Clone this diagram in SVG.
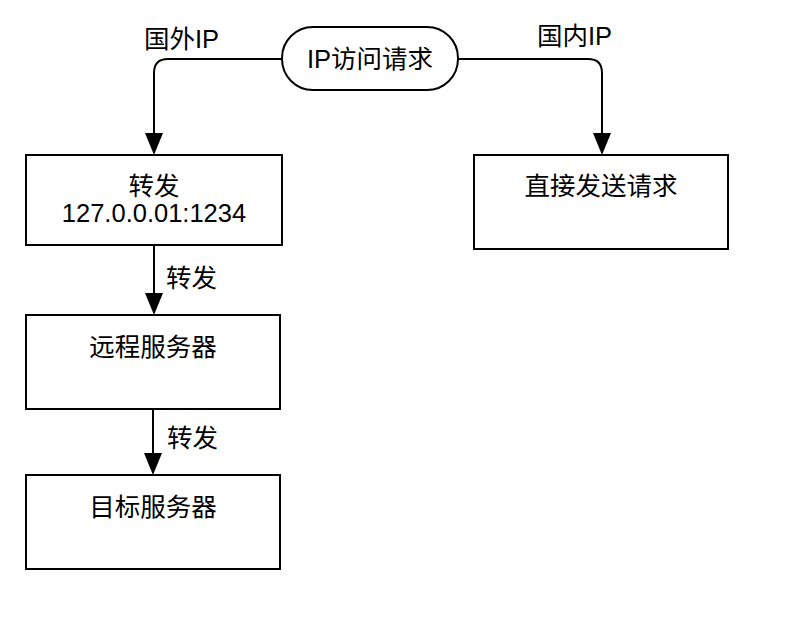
<svg xmlns="http://www.w3.org/2000/svg" width="802" height="644" viewBox="0 0 802 644">
<style>
.box{fill:#fff;stroke:#000;stroke-width:2}
.edge{fill:none;stroke:#000;stroke-width:2}
.head{fill:#000}
text{font-family:"Liberation Sans","Noto Sans CJK SC",sans-serif;font-size:25.5px;fill:#000}
.c{text-anchor:middle}
</style>
<rect width="802" height="644" fill="#fff"/>
<g id="connectors">
<path class="edge" d="M282,59 H168 Q154,59 154,73 V133"/>
<path class="head" d="M145,133 L163,133 L154,155 Z"/>
<path class="edge" d="M458,59 H588 Q602,59 602,73 V133"/>
<path class="head" d="M593,133 L611,133 L602,155 Z"/>
<path class="edge" d="M154,245 V293"/>
<path class="head" d="M145,293 L163,293 L154,315 Z"/>
<path class="edge" d="M153,409 V453"/>
<path class="head" d="M144,453 L162,453 L153,475 Z"/>
<text x="144" y="48">国外IP</text>
<text x="537" y="45">国内IP</text>
<text x="166" y="287">转发</text>
<text x="167" y="447">转发</text>
</g>
<g id="start">
<rect class="box" x="282" y="27" width="176" height="63" rx="31" ry="31"/>
<text class="c" x="370" y="68">IP访问请求</text>
</g>
<g id="forward">
<rect class="box" x="26" y="155" width="256" height="90"/>
<text class="c" x="154" y="195">转发</text>
<text class="c" x="154" y="222">127.0.0.01:1234</text>
</g>
<g id="direct">
<rect class="box" x="474" y="155" width="254" height="94"/>
<text class="c" x="601" y="195">直接发送请求</text>
</g>
<g id="remote">
<rect class="box" x="26" y="315" width="254" height="94"/>
<text class="c" x="153" y="356">远程服务器</text>
</g>
<g id="target">
<rect class="box" x="26" y="475" width="254" height="94"/>
<text class="c" x="153" y="516">目标服务器</text>
</g>
</svg>
